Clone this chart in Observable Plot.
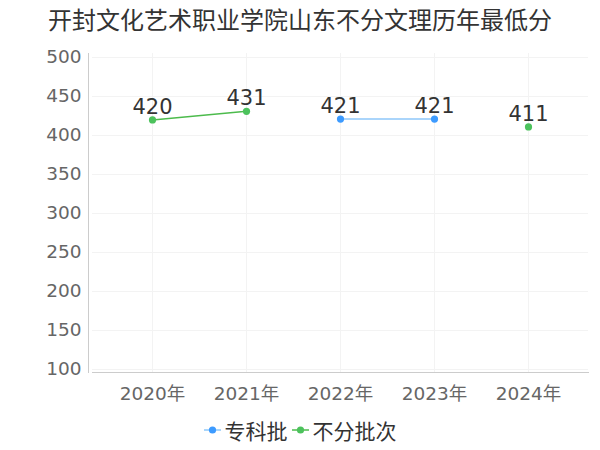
<!DOCTYPE html>
<html>
<head>
<meta charset="utf-8">
<script src="https://cdn.jsdelivr.net/npm/d3@7"></script>
<script src="https://cdn.jsdelivr.net/npm/@observablehq/plot@0.6"></script>
<style>
  html, body { margin: 0; padding: 0; background: #fff; }
  body { width: 600px; height: 450px; overflow: hidden; font-family: "DejaVu Sans", "Noto Sans CJK SC", sans-serif; }
  #title { height: 40px; line-height: 38px; text-align: center; font-size: 24px; color: #333; font-family: "Noto Sans CJK SC", sans-serif; }
  #chart svg { display: block; }
  #legend { height: 40px; display: flex; justify-content: center; align-items: center; font-family: "Noto Sans CJK SC", sans-serif; font-size: 21px; color: #333; }
  .item { display: flex; align-items: center; margin: 0 2px; }
  .item svg { margin-right: 4px; }
</style>
</head>
<body>
<div id="title"></div>
<div id="chart"></div>
<div id="legend"></div>
<script>
const titleText = "开封文化艺术职业学院山东不分文理历年最低分";
const years = ["2020年", "2021年", "2022年", "2023年", "2024年"];
const seriesNames = ["专科批", "不分批次"];
const seriesColors = ["#3d9bff", "#4cc25c"];
const lineColors = ["#8ec8fa", "#4cbb4c"];
const zhuanke = [null, null, 421, 421, null];
const bufen = [420, 431, null, null, 411];
const yTicks = [100, 150, 200, 250, 300, 350, 400, 450, 500];

const seriesValues = [zhuanke, bufen];
const rows = [];
seriesNames.forEach((name, si) => {
  years.forEach((yr, i) => {
    rows.push({series: name, year: yr, value: seriesValues[si][i] == null ? NaN : seriesValues[si][i]});
  });
});
const pts = rows.filter(d => !isNaN(d.value));

document.getElementById("title").textContent = titleText;

const font = "DejaVu Sans, Noto Sans CJK SC, sans-serif";
const chart = Plot.plot({
  width: 600,
  height: 370,
  marginTop: 13,
  marginBottom: 38,
  marginLeft: 92,
  marginRight: 12,
  insetTop: 4,
  insetBottom: 3,
  style: {fontFamily: font, background: "#fff"},
  x: {type: "point", domain: years, padding: 0.632},
  y: {domain: [100, 500]},
  marks: [
    Plot.gridY(yTicks, {stroke: "#f3f3f3", strokeOpacity: 1}),
    Plot.gridX(years, {stroke: "#f3f3f3", strokeOpacity: 1}),
    Plot.frame({anchor: "bottom", stroke: "#ccc"}),
    Plot.frame({anchor: "left", stroke: "#ccc", dx: -4}),
    Plot.axisY(yTicks, {tickSize: 0, tickPadding: 11, fontSize: 18.5, fill: "#666", label: null}),
    Plot.axisX(years, {tickSize: 0, tickPadding: 14, fontSize: 18.5, fill: "#666", label: null}),
    ...seriesNames.map((name, si) =>
      Plot.line(rows.filter(d => d.series === name), {x: "year", y: "value", stroke: lineColors[si], strokeWidth: 1.5})
    ),
    ...seriesNames.map((name, si) =>
      Plot.dot(pts.filter(d => d.series === name), {x: "year", y: "value", r: 3.6, fill: seriesColors[si], stroke: "none"})
    ),
    Plot.text(pts, {x: "year", y: "value", text: d => String(d.value), dy: -13, fontSize: 21, fill: "#333"})
  ]
});
document.getElementById("chart").appendChild(chart);

const legend = document.getElementById("legend");
seriesNames.forEach((name, si) => {
  const item = document.createElement("div");
  item.className = "item";
  item.innerHTML = `<svg width="17" height="10"><line x1="0" x2="17" y1="5" y2="5" stroke="${lineColors[si]}" stroke-width="1.5"/><circle cx="8.5" cy="5" r="3.6" fill="${seriesColors[si]}"/></svg><span>${name}</span>`;
  legend.appendChild(item);
});
</script>
</body>
</html>
